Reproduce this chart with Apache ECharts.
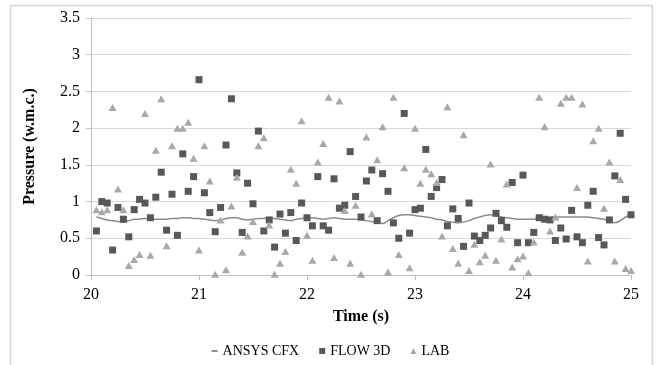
<!DOCTYPE html>
<html>
<head>
<meta charset="utf-8">
<script src="https://cdn.jsdelivr.net/npm/echarts@6/dist/echarts.min.js"></script>
<style>
  html, body { margin: 0; padding: 0; background: #fff; }
  #chart { width: 661px; height: 365px; }
</style>
</head>
<body>
<div id="chart"></div>
<script>
// sample times (s)
const times = [
  20.05, 20.10, 20.15, 20.20, 20.25, 20.30, 20.35, 20.40, 20.45, 20.50,
  20.55, 20.60, 20.65, 20.70, 20.75, 20.80, 20.85, 20.90, 20.95, 21.00,
  21.05, 21.10, 21.15, 21.20, 21.25, 21.30, 21.35, 21.40, 21.45, 21.50,
  21.55, 21.60, 21.65, 21.70, 21.75, 21.80, 21.85, 21.90, 21.95, 22.00,
  22.05, 22.10, 22.15, 22.20, 22.25, 22.30, 22.35, 22.40, 22.45, 22.50,
  22.55, 22.60, 22.65, 22.70, 22.75, 22.80, 22.85, 22.90, 22.95, 23.00,
  23.05, 23.10, 23.15, 23.20, 23.25, 23.30, 23.35, 23.40, 23.45, 23.50,
  23.55, 23.60, 23.65, 23.70, 23.75, 23.80, 23.85, 23.90, 23.95, 24.00,
  24.05, 24.10, 24.15, 24.20, 24.25, 24.30, 24.35, 24.40, 24.45, 24.50,
  24.55, 24.60, 24.65, 24.70, 24.75, 24.80, 24.85, 24.90, 24.95, 25.00
]

const ansysCfx = [
  0.79, 0.77, 0.75, 0.74, 0.73, 0.72, 0.74, 0.76, 0.76, 0.77,
  0.76, 0.76, 0.76, 0.76, 0.77, 0.77, 0.78, 0.78, 0.77, 0.77,
  0.76, 0.75, 0.74, 0.75, 0.77, 0.78, 0.78, 0.76, 0.75, 0.76,
  0.77, 0.77, 0.78, 0.77, 0.76, 0.75, 0.74, 0.76, 0.77, 0.78,
  0.78, 0.77, 0.76, 0.77, 0.78, 0.77, 0.76, 0.76, 0.76, 0.75,
  0.74, 0.73, 0.71, 0.70, 0.74, 0.78, 0.81, 0.82, 0.82, 0.81,
  0.80, 0.79, 0.78, 0.76, 0.75, 0.73, 0.72, 0.71, 0.72, 0.74,
  0.77, 0.79, 0.81, 0.82, 0.81, 0.79, 0.78, 0.77, 0.76, 0.76,
  0.76, 0.76, 0.77, 0.77, 0.78, 0.79, 0.79, 0.79, 0.79, 0.79,
  0.79, 0.79, 0.78, 0.77, 0.76, 0.74, 0.71, 0.74, 0.79, 0.82
]

const flow3d = [
  0.60, 1.00, 0.98, 0.34, 0.92, 0.76, 0.52, 0.89, 1.03, 0.98,
  0.78, 1.06, 1.40, 0.61, 1.10, 0.54, 1.65, 1.14, 1.34, 2.66,
  1.12, 0.85, 0.59, 0.92, 1.77, 2.40, 1.39, 0.58, 1.25, 0.97,
  1.96, 0.60, 0.75, 0.38, 0.83, 0.57, 0.85, 0.47, 0.98, 0.78,
  0.67, 1.34, 0.67, 0.61, 1.31, 0.91, 0.95, 1.68, 1.07, 0.79,
  1.28, 1.43, 0.74, 1.38, 1.14, 0.71, 0.50, 2.20, 0.57, 0.89,
  0.91, 1.71, 1.07, 1.19, 1.30, 0.67, 0.90, 0.77, 0.39, 0.98,
  0.53, 0.47, 0.54, 0.64, 0.84, 0.74, 0.65, 1.26, 0.44, 1.36,
  0.44, 0.58, 0.78, 0.76, 0.75, 0.47, 0.64, 0.49, 0.88, 0.52,
  0.44, 0.95, 1.14, 0.51, 0.41, 0.75, 1.35, 1.93, 1.03, 0.82
]

const lab = [
  0.89, 0.86, 0.89, 2.28, 1.17, 0.89, 0.13, 0.21, 0.28, 2.20,
  0.27, 1.70, 2.40, 0.40, 1.76, 2.00, 2.00, 2.08, 1.59, 0.34,
  1.76, 1.28, 0.01, 0.75, 0.07, 0.94, 1.33, 0.31, 0.53, 0.73,
  1.76, 1.87, 0.68, 0.01, 0.16, 0.32, 1.44, 1.25, 2.10, 0.54,
  0.20, 1.54, 1.79, 2.42, 0.24, 2.37, 0.88, 0.16, 0.95, 0.01,
  1.88, 0.83, 1.57, 2.02, 0.04, 2.42, 0.28, 1.46, 0.10, 2.00,
  1.25, 1.44, 1.38, 1.26, 0.53, 2.29, 0.36, 0.16, 1.91, 0.06,
  0.42, 0.18, 0.27, 1.51, 0.20, 0.49, 1.24, 0.11, 0.22, 0.26,
  0.03, 0.45, 2.42, 2.02, 0.60, 0.79, 2.34, 2.42, 2.42, 1.19,
  2.33, 0.19, 1.83, 2.00, 0.91, 1.54, 0.19, 1.30, 0.09, 0.06
]

const pairs = vals => times.map((t, i) => [t, vals[i]])
const serif = 'Liberation Serif'

const chart = echarts.init(document.getElementById('chart'))

const option = {
  animation: false,
  graphic: [{
    type: 'rect',
    shape: { x: 10.5, y: 5.5, width: 642, height: 380 },
    style: { fill: 'none', stroke: '#d4d4d4', lineWidth: 1.5 },
    silent: true
  }],
  grid: { left: 91, right: 30, top: 18, bottom: 90 },
  legend: {
    left: 'center',
    top: 339,
    itemWidth: 6,
    itemHeight: 6,
    itemGap: 20,
    textStyle: { fontFamily: serif, fontSize: 14, color: '#000' },
    data: [
      { name: 'ANSYS CFX', icon: 'path://M0,0h6v2h-6z', itemStyle: { color: '#8c8c8c' } },
      { name: 'FLOW 3D', icon: 'rect' },
      { name: 'LAB', icon: 'triangle' }
    ]
  },
  xAxis: {
    type: 'value',
    min: 20,
    max: 25,
    interval: 1,
    name: 'Time (s)',
    nameLocation: 'middle',
    nameGap: 34,
    nameTextStyle: { fontFamily: serif, fontSize: 16, fontWeight: 'bold', color: '#000' },
    axisLine: { lineStyle: { color: '#bfbfbf' } },
    axisTick: { show: true, length: 5, lineStyle: { color: '#bfbfbf' } },
    axisLabel: { fontFamily: serif, fontSize: 16, color: '#000', margin: 12 },
    splitLine: { show: false }
  },
  yAxis: {
    type: 'value',
    min: 0,
    max: 3.5,
    interval: 0.5,
    name: 'Pressure (w.m.c.)',
    nameLocation: 'middle',
    nameGap: 53,
    nameTextStyle: { fontFamily: serif, fontSize: 16, fontWeight: 'bold', color: '#000' },
    axisLine: { show: true, lineStyle: { color: '#bfbfbf' } },
    axisTick: { show: true, length: 5, lineStyle: { color: '#bfbfbf' } },
    axisLabel: { fontFamily: serif, fontSize: 16, color: '#000', margin: 11 },
    splitLine: { lineStyle: { color: '#d9d9d9' } }
  },
  series: [
    {
      name: 'ANSYS CFX',
      type: 'line',
      data: pairs(ansysCfx),
      showSymbol: false,
      smooth: 0.3,
      lineStyle: { color: '#8c8c8c', width: 1.5 },
      itemStyle: { color: '#8c8c8c' },
      z: 1
    },
    {
      name: 'FLOW 3D',
      type: 'scatter',
      data: pairs(flow3d),
      symbol: 'rect',
      symbolSize: 7,
      itemStyle: { color: '#585858', opacity: 1 },
      z: 2
    },
    {
      name: 'LAB',
      type: 'scatter',
      data: pairs(lab),
      symbol: 'triangle',
      symbolSize: [8, 7],
      itemStyle: { color: '#a8a8a8', opacity: 1 },
      z: 3
    }
  ]
}

chart.setOption(option)
window.addEventListener('resize', function () {
  chart.resize()
})
</script>
</body>
</html>
